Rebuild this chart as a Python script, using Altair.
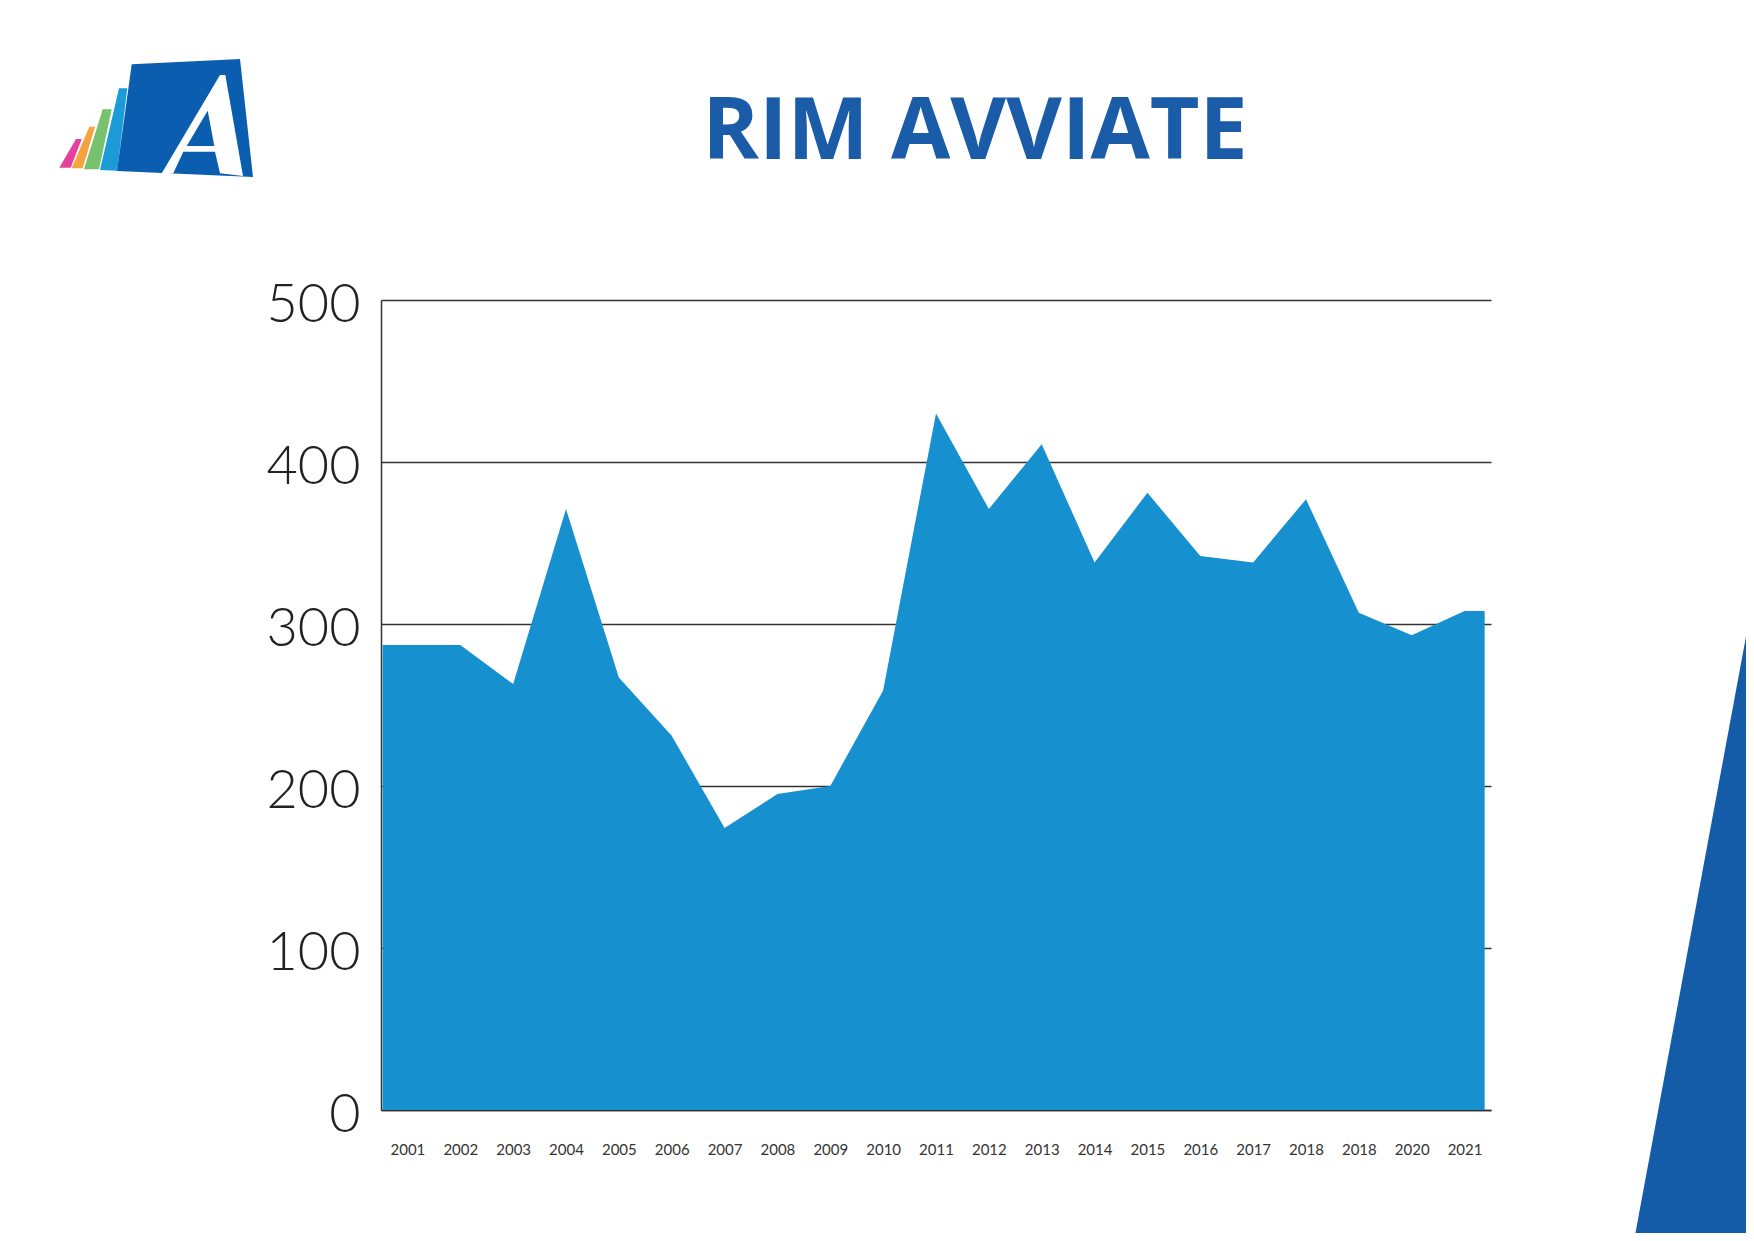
import json
import altair as alt
import pandas as pd

# ---------------- data ----------------
years = ["2001", "2002", "2003", "2004", "2005", "2006", "2007", "2008", "2009", "2010",
         "2011", "2012", "2013", "2014", "2015", "2016", "2017", "2018", "2018", "2020", "2021"]
values = [287, 287, 263, 371, 267, 231, 174, 195, 200, 259,
          430, 371, 411, 338, 381, 342, 338, 377, 307, 293, 308]
y_ticks = [0, 100, 200, 300, 400, 500]
title_text = "RIM AVVIATE"

# ---------------- layout (page pixels) ----------------
PLOT_LEFT, PLOT_TOP = 381, 300
W, H = 1110, 810
PAGE_W, PAGE_H = 1738, 1225

AREA_COLOR = "#1790cf"
TITLE_COLOR = "#1a5ca8"
DARK_BLUE = "#155ca8"

n = len(years)
idx = list(range(n))
df = pd.DataFrame({"idx": idx, "year": years, "value": values})
# area in reference reaches almost to the band edges at both ends
left_edge = pd.DataFrame({"idx": [-0.47], "year": [years[0]], "value": [values[0]]})
right_edge = pd.DataFrame({"idx": [n - 1 + 0.38], "year": [years[-1]], "value": [values[-1]]})
area_df = pd.concat([left_edge, df, right_edge]).reset_index(drop=True)

one = pd.DataFrame({"k": [0]})

label_expr = json.dumps(years) + "[datum.value]"

area = alt.Chart(area_df).mark_area(color=AREA_COLOR, opacity=1).encode(
    x=alt.X("idx:Q",
            scale=alt.Scale(domain=[-0.5, n - 0.5], nice=False, zero=False),
            axis=alt.Axis(values=idx, labelExpr=label_expr, grid=False, ticks=False,
                          domain=True, domainColor="#333333", domainWidth=1.5,
                          labelFont="Lato", labelFontSize=15, labelColor="#333333",
                          labelPadding=39, labelBaseline="middle", labelFlush=False,
                          labelOverlap=False, title=None)),
    y=alt.Y("value:Q",
            scale=alt.Scale(domain=[0, 500], nice=False),
            axis=alt.Axis(values=y_ticks, grid=True, gridColor="#333333", gridWidth=1.4,
                          gridOpacity=1, ticks=False, domain=True, domainColor="#333333",
                          domainWidth=1.5, labelFont="Lato", labelFontWeight=300,
                          labelFontSize=54, labelColor="#222222", labelPadding=21,
                          labelBaseline="middle", labelOffset=5, title=None)),
)

title = alt.Chart(one).mark_text(
    text=title_text, font="Open Sans", fontSize=86, fontWeight="bold",
    color=TITLE_COLOR, align="center", baseline="alphabetic"
).encode(x=alt.value(975 - PLOT_LEFT), y=alt.value(159 - PLOT_TOP))


def shape_layer(points, color, cx, cy, side):
    half = side / 2.0
    path = "M " + " L ".join(f"{(x - cx) / half:.4f} {(y - cy) / half:.4f}" for x, y in points) + " Z"
    return alt.Chart(one).mark_point(
        shape=path, filled=True, opacity=1, strokeWidth=0, color=color, size=side * side
    ).encode(x=alt.value(cx - PLOT_LEFT), y=alt.value(cy - PLOT_TOP))


# decorative right triangle
tri = shape_layer([(1754.6, 590), (1775, 590), (1775, 1250), (1632.3, 1250)],
                  DARK_BLUE, 1440, 920, 680)

# logo (top-left)
LCX, LCY, LS = 150, 115, 240
logo_layers = [
    shape_layer([(59.3, 167.7), (70.7, 167.7), (81.7, 139), (76, 139)], "#e5409b", LCX, LCY, LS),
    shape_layer([(71.7, 168.3), (82.7, 168.3), (95, 126.7), (89.3, 126.7)], "#f5a33c", LCX, LCY, LS),
    shape_layer([(84, 169.3), (99, 169.3), (111.7, 109.3), (102.7, 109.3)], "#78c16e", LCX, LCY, LS),
    shape_layer([(100, 170), (117.3, 170.7), (127.3, 88.3), (119, 88.3)], "#1b9bd7", LCX, LCY, LS),
    shape_layer([(131.7, 64.3), (240, 59), (253, 177), (117, 171)], "#0b5eaf", LCX, LCY, LS),
    shape_layer([(160.7, 175), (220, 75), (225.3, 75), (243, 176), (220, 173.3),
                 (215, 151.7), (183.3, 151.7), (173.3, 173.3)], "#ffffff", LCX, LCY, LS),
    shape_layer([(186.7, 146), (214.3, 146), (207.7, 110.7)], "#0b5eaf", LCX, LCY, LS),
]

chart = alt.layer(area, title, tri, *logo_layers).properties(
    width=W, height=H,
    padding={"left": PLOT_LEFT - 8, "top": PLOT_TOP - 8,
             "right": PAGE_W - (PLOT_LEFT - 8) - W, "bottom": PAGE_H - (PLOT_TOP - 8) - H},
    autosize="none", background="white",
).configure_view(strokeWidth=0)

chart.save("out.html", embed_options={"renderer": "svg", "actions": False})
